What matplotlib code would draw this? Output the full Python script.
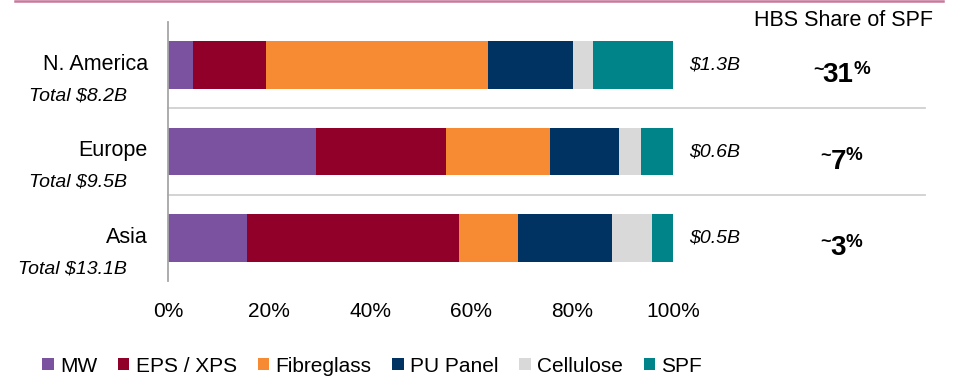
import matplotlib
matplotlib.use("Agg")
import matplotlib.pyplot as plt
from matplotlib.patches import Patch
from matplotlib.lines import Line2D
from matplotlib.ticker import PercentFormatter

plt.rcParams['font.family'] = ['Liberation Sans', 'DejaVu Sans']

regions = ["N. America", "Europe", "Asia"]
totals = ["Total $8.2B", "Total $9.5B", "Total $13.1B"]
spf_value = ["$1.3B", "$0.6B", "$0.5B"]
hbs_share = ["31", "7", "3"]

materials = ["MW", "EPS / XPS", "Fibreglass", "PU Panel", "Cellulose", "SPF"]
colors = ["#7B52A0", "#910028", "#F68B33", "#003361", "#D9D9D9", "#00848A"]

# share of each material per region (%)
mw         = [5.0, 29.4, 15.6]
eps_xps    = [14.5, 25.6, 42.1]
fibreglass = [43.8, 20.7, 11.7]
pu_panel   = [16.8, 13.7, 18.6]
cellulose  = [4.1, 4.2, 7.9]
spf        = [15.8, 6.4, 4.1]
series = [mw, eps_xps, fibreglass, pu_panel, cellulose, spf]

fig = plt.figure(figsize=(9.56, 3.78), dpi=100)
ax = fig.add_axes([168 / 956, 1 - 281 / 378, 505 / 956, 259 / 378])

y = list(range(len(regions)))
left = [0.0] * len(regions)
for vals, col in zip(series, colors):
    ax.barh(y, vals, left=left, height=0.555, color=col, edgecolor='none')
    left = [l + v for l, v in zip(left, vals)]

ax.set_xlim(0, 100)
ax.set_ylim(2.5, -0.5)
ax.set_xticks([0, 20, 40, 60, 80, 100])
ax.xaxis.set_major_formatter(PercentFormatter(decimals=0))
ax.tick_params(axis='x', length=0, pad=15, labelsize=15)
ax.set_yticks([])
for s in ['top', 'right', 'bottom']:
    ax.spines[s].set_visible(False)
ax.spines['left'].set_color('#A6A6A6')
ax.spines['left'].set_linewidth(1.3)

# separators between regions
for k in range(len(regions) - 1):
    ax.plot([0, 149.9], [k + 0.5, k + 0.5], color='#D0D0D0', lw=1.3,
            clip_on=False, zorder=0)

for i in y:
    ax.annotate(regions[i], xy=(0, i), xytext=(-14.5, 0.5), textcoords='offset points',
                ha='right', va='center', fontsize=15.5)
    ax.annotate(totals[i], xy=(0, i), xytext=(-29.5, -22.3), textcoords='offset points',
                ha='right', va='center', fontsize=14, style='italic')
    ax.annotate(spf_value[i], xy=(103.2, i), xytext=(0, 0), textcoords='offset points',
                ha='left', va='center', fontsize=14, style='italic',
                annotation_clip=False)
    num = ax.annotate(hbs_share[i], xy=(132.7, i), xytext=(0, -12.3),
                      textcoords='offset points', ha='center', va='baseline',
                      fontsize=20, fontweight='bold', annotation_clip=False)
    ax.annotate("~", xy=(0, 1), xycoords=num, xytext=(0.5, 0.5),
                textcoords='offset points', ha='right', va='top',
                fontsize=13, fontweight='bold')
    ax.annotate("%", xy=(1, 1), xycoords=num, xytext=(-0.3, 1.0),
                textcoords='offset points', ha='left', va='top',
                fontsize=13.5, fontweight='bold')

fig.text(843 / 956, 1 - 21 / 378, "HBS Share of SPF", ha='center', va='center',
         fontsize=15.5)

fig.add_artist(Line2D([15 / 956, 943 / 956], [1 - 1.2 / 378, 1 - 1.2 / 378],
                      color='#C8789A', lw=1.8, transform=fig.transFigure))

handles = [Patch(facecolor=c, edgecolor='none') for c in colors]
fig.legend(handles, materials, loc='center', bbox_to_anchor=(372 / 956, 1 - 366 / 378),
           ncol=6, frameon=False, fontsize=15, handlelength=0.55, handleheight=0.55,
           handletextpad=0.3, columnspacing=1.0, borderaxespad=0)

fig.savefig("out.png", dpi=100)
